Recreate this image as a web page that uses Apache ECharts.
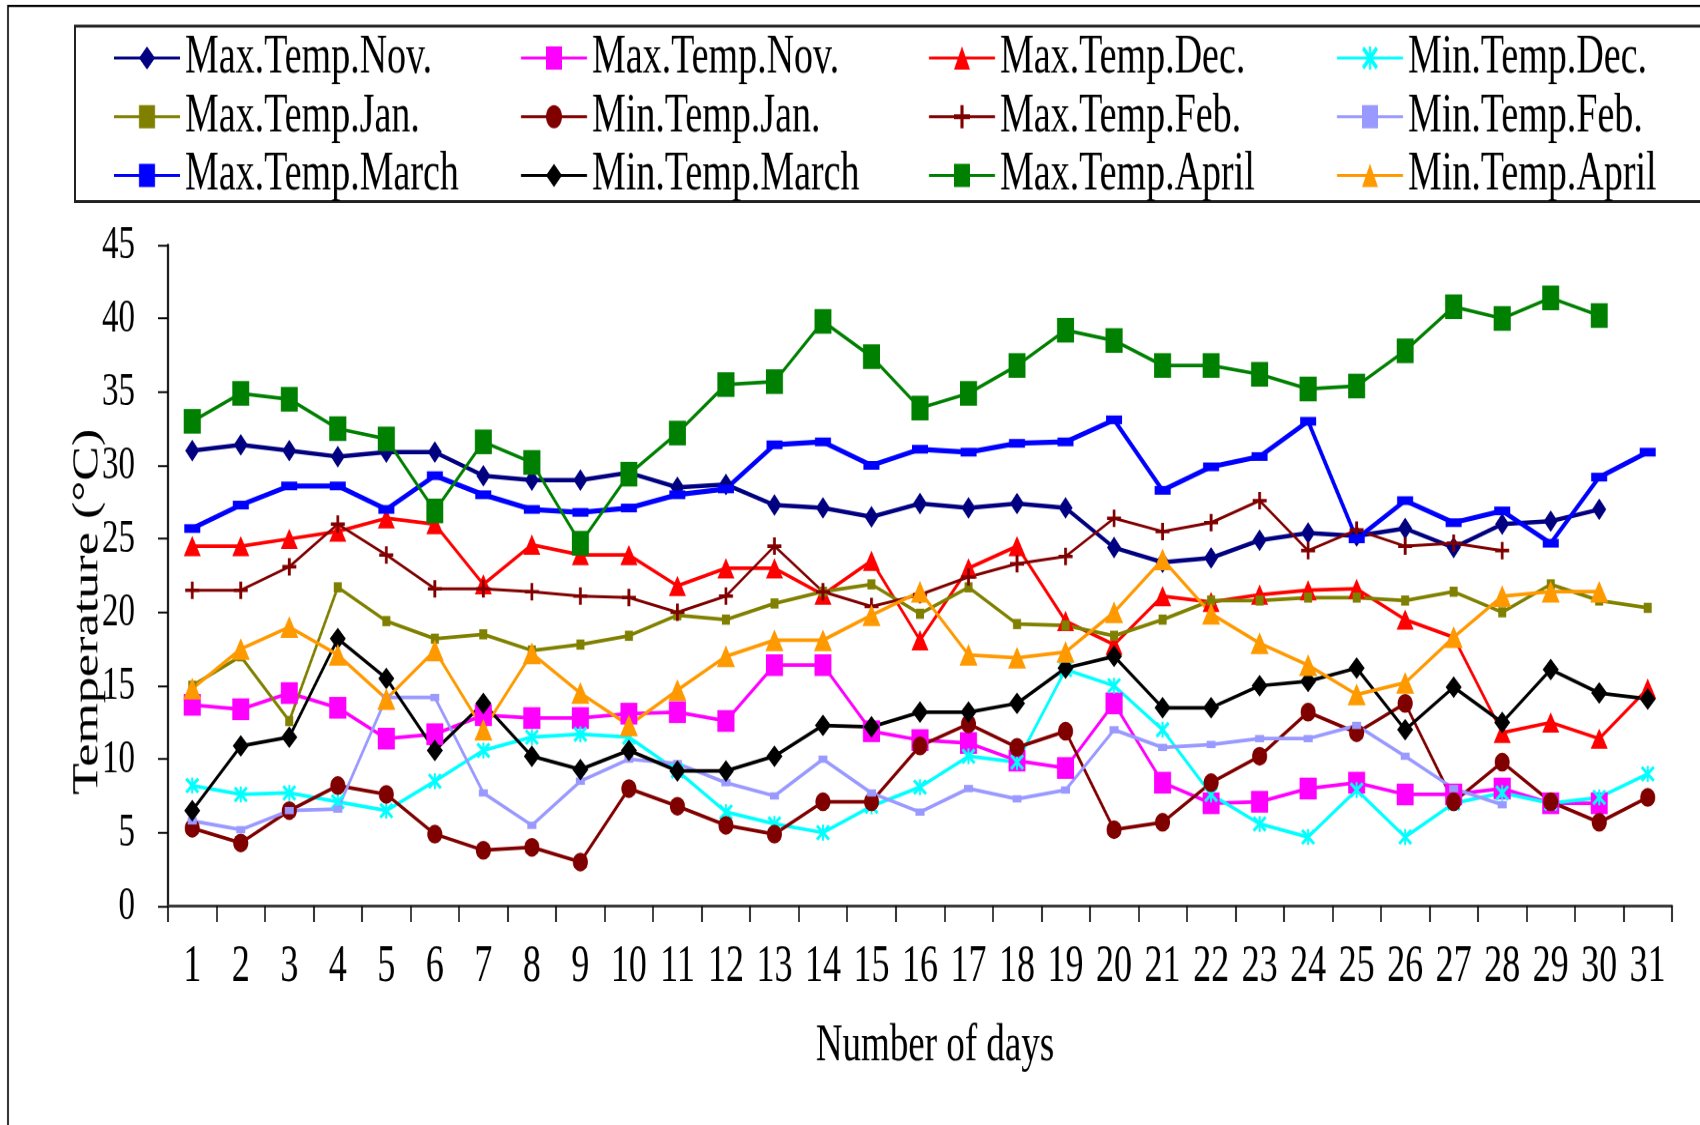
<!DOCTYPE html>
<html><head><meta charset="utf-8">
<script src="https://cdn.jsdelivr.net/npm/echarts@6/dist/echarts.min.js"></script>
<style>
html,body{margin:0;padding:0;background:#fff;overflow:hidden;width:1700px;height:1125px}
#wrap{width:1700px;height:1125px;overflow:hidden;position:relative}
#chart{width:1700px;height:776px;transform:scaleY(1.4497);transform-origin:0 0}
</style></head><body><div id="wrap"><div id="chart"></div></div>
<script>
const days = ['1','2','3','4','5','6','7','8','9','10','11','12','13','14','15','16','17','18','19','20','21','22','23','24','25','26','27','28','29','30','31'];
const yTicks = {min:0, max:45, interval:5};

const maxNov = [31.0,31.4,31.0,30.6,30.9,30.9,29.3,29.0,29.0,29.5,28.5,28.7,27.3,27.1,26.5,27.4,27.1,27.4,27.1,24.4,23.4,23.7,24.9,25.4,25.2,25.7,24.4,26.0,26.2,27.0];
const minNov = [13.7,13.4,14.5,13.5,11.4,11.7,13.0,12.8,12.8,13.1,13.2,12.6,16.4,16.4,11.9,11.3,11.1,9.9,9.4,13.8,8.4,7.0,7.1,8.0,8.4,7.6,7.6,8.0,7.0,7.0];
const maxDec = [24.5,24.5,25.0,25.5,26.4,26.0,21.9,24.6,23.9,23.9,21.8,23.0,23.0,21.2,23.5,18.1,23.0,24.5,19.4,17.8,21.1,20.7,21.2,21.5,21.6,19.5,18.3,11.8,12.5,11.4,14.8];
const minDec = [8.2,7.6,7.7,7.1,6.5,8.5,10.6,11.5,11.7,11.5,9.2,6.4,5.6,5.0,6.8,8.1,10.2,9.8,16.1,15.0,12.0,7.6,5.6,4.7,7.9,4.7,7.0,7.7,7.0,7.4,9.0];
const maxJan = [15.0,17.0,12.6,21.7,19.4,18.2,18.5,17.4,17.8,18.4,19.8,19.5,20.6,21.4,21.9,19.9,21.7,19.2,19.1,18.4,19.5,20.8,20.8,21.0,21.0,20.8,21.4,20.0,21.9,20.8,20.3];
const minJan = [5.3,4.3,6.5,8.2,7.6,4.9,3.8,4.0,3.0,8.0,6.8,5.5,4.9,7.1,7.1,10.9,12.4,10.8,11.9,5.2,5.7,8.4,10.2,13.2,11.8,13.8,7.1,9.8,7.1,5.7,7.4];
const maxFeb = [21.5,21.5,23.1,26.0,23.9,21.6,21.6,21.4,21.1,21.0,20.0,21.1,24.5,21.4,20.4,21.2,22.4,23.3,23.8,26.4,25.5,26.1,27.6,24.2,25.6,24.5,24.7,24.2];
const minFeb = [5.8,5.2,6.5,6.6,14.2,14.2,7.7,5.5,8.5,10.0,9.7,8.4,7.5,10.0,7.7,6.4,8.0,7.3,7.9,12.0,10.8,11.0,11.4,11.4,12.3,10.2,8.0,6.9];
const maxMar = [25.7,27.3,28.6,28.6,27.0,29.3,28.0,27.0,26.8,27.1,28.0,28.4,31.4,31.6,30.0,31.1,30.9,31.5,31.6,33.1,28.3,29.9,30.6,33.0,25.0,27.6,26.1,26.9,24.7,29.2,30.9];
const minMar = [6.5,10.9,11.5,18.2,15.5,10.6,13.8,10.2,9.3,10.6,9.2,9.2,10.2,12.3,12.2,13.2,13.2,13.8,16.2,17.0,13.5,13.5,15.0,15.3,16.2,12.0,14.9,12.5,16.1,14.5,14.1];
const maxApr = [33.0,34.9,34.5,32.5,31.8,26.9,31.6,30.2,24.7,29.4,32.2,35.5,35.7,39.8,37.4,33.9,34.9,36.8,39.2,38.5,36.8,36.8,36.2,35.2,35.4,37.8,40.8,40.0,41.4,40.2];
const minApr = [14.8,17.5,19.0,17.1,14.1,17.4,12.0,17.2,14.5,12.3,14.7,17.0,18.1,18.1,19.8,21.4,17.1,16.9,17.3,20.0,23.6,19.9,17.9,16.4,14.4,15.2,18.3,21.1,21.4,21.4];

const legendCols = [
  ['Max.Temp.Nov.', 'Max.Temp.Jan.', 'Max.Temp.March'],
  ['Min.Temp.Nov.', 'Min.Temp.Jan.', 'Min.Temp.March'],
  ['Max.Temp.Dec.', 'Max.Temp.Feb.', 'Max.Temp.April'],
  ['Min.Temp.Dec.', 'Min.Temp.Feb.', 'Min.Temp.April']
];
const legendLabel = {'Min.Temp.Nov.': 'Max.Temp.Nov.'};

const FONT = "'Liberation Serif', 'Times New Roman', serif";
const SYM_X = 'path://M0,1.4L1.4,0L5,3.6L8.6,0L10,1.4L6.4,5L10,8.6L8.6,10L5,6.4L1.4,10L0,8.6L3.6,5Z M4.3,0L5.7,0L5.7,10L4.3,10Z';
const SYM_PLUS = 'path://M4,0L6,0L6,4L10,4L10,6L6,6L6,10L4,10L4,6L0,6L0,4L4,4Z';

function mk(name, data, color, symbol, size, lw) {
  return {
    type: 'line', name: name, data: data, symbol: symbol, symbolSize: size,
    showSymbol: true, showAllSymbol: true, connectNulls: false,
    lineStyle: {color: color, width: lw},
    itemStyle: {color: color, borderWidth: 0},
    emphasis: {disabled: true}, animation: false
  };
}

const series = [
  mk('Max.Temp.Nov.', maxNov, '#000080', 'diamond', [14, 15], 3),
  mk('Min.Temp.Nov.', minNov, '#FF00FF', 'rect', [17, 15], 2.5),
  mk('Max.Temp.Dec.', maxDec, '#FF0000', 'triangle', [17, 14], 2.5),
  mk('Min.Temp.Dec.', minDec, '#00FFFF', SYM_X, [14, 11], 2.5),
  mk('Max.Temp.Jan.', maxJan, '#808000', 'rect', [8, 7], 2.5),
  mk('Min.Temp.Jan.', minJan, '#800000', 'circle', [15, 13], 2.5),
  mk('Max.Temp.Feb.', maxFeb, '#800000', SYM_PLUS, [14, 12], 2),
  mk('Min.Temp.Feb.', minFeb, '#9999FF', 'rect', [9, 5], 2.5),
  mk('Max.Temp.March', maxMar, '#0000FF', 'rect', [16, 6], 3.5),
  mk('Min.Temp.March', minMar, '#000000', 'diamond', [16, 15], 2.5),
  mk('Max.Temp.April', maxApr, '#008000', 'rect', [17, 17], 2.5),
  mk('Min.Temp.April', minApr, '#FF9900', 'triangle', [18, 15], 2.5)
];

const legendLeft = [113, 520, 928, 1336];
const legends = legendCols.map(function (col, i) {
  return {
    orient: 'vertical', left: legendLeft[i], top: 21, padding: 0,
    itemGap: 2.5, itemWidth: 66, itemHeight: 20, selectedMode: false,
    data: col,
    formatter: function (n) { return legendLabel[n] || n; },
    textStyle: {fontFamily: FONT, fontSize: 38, lineHeight: 36, color: '#000'}
  };
});

const chart = echarts.init(document.getElementById('chart'), null, {renderer: 'canvas', devicePixelRatio: 1.5});
chart.setOption({
  animation: false,
  backgroundColor: '#fff',
  graphic: [
    {type: 'rect', silent: true, z: -10, shape: {x: 8, y: 4, width: 1800, height: 900}, style: {fill: 'none', stroke: '#000', lineWidth: 1.5}},
    {type: 'rect', silent: true, z: -10, shape: {x: 75, y: 18, width: 1700, height: 121}, style: {fill: 'none', stroke: '#222', lineWidth: 2}}
  ],
  legend: legends,
  grid: {left: 168, right: 28, top: 169, bottom: 151, containLabel: false},
  xAxis: {
    type: 'category', data: days, boundaryGap: true,
    axisLine: {lineStyle: {color: '#3a3a3a', width: 2}},
    axisTick: {show: true, length: 11, alignWithLabel: false, lineStyle: {color: '#000', width: 1.5}},
    axisLabel: {interval: 0, fontSize: 36, fontFamily: FONT, color: '#000', margin: 24},
    splitLine: {show: false},
    name: 'Number of days', nameLocation: 'middle', nameGap: 78, nameMoveOverlap: false,
    nameTextStyle: {fontSize: 37, fontFamily: FONT, color: '#000', padding: [0, 0, 0, 30]}
  },
  yAxis: {
    type: 'value', min: yTicks.min, max: yTicks.max, interval: yTicks.interval,
    axisLine: {show: true, lineStyle: {color: '#000', width: 2}},
    axisTick: {show: true, length: 10, lineStyle: {color: '#000', width: 1.3}},
    axisLabel: {fontSize: 33, fontFamily: FONT, color: '#000', margin: 33},
    splitLine: {show: false},
    name: 'Temperature (°C)', nameLocation: 'middle', nameGap: 62, nameRotate: 90, nameMoveOverlap: false,
    nameTextStyle: {fontSize: 36, fontFamily: FONT, color: '#000', padding: [0, 50, 0, 0]}
  },
  series: series
});
</script>
</body></html>
